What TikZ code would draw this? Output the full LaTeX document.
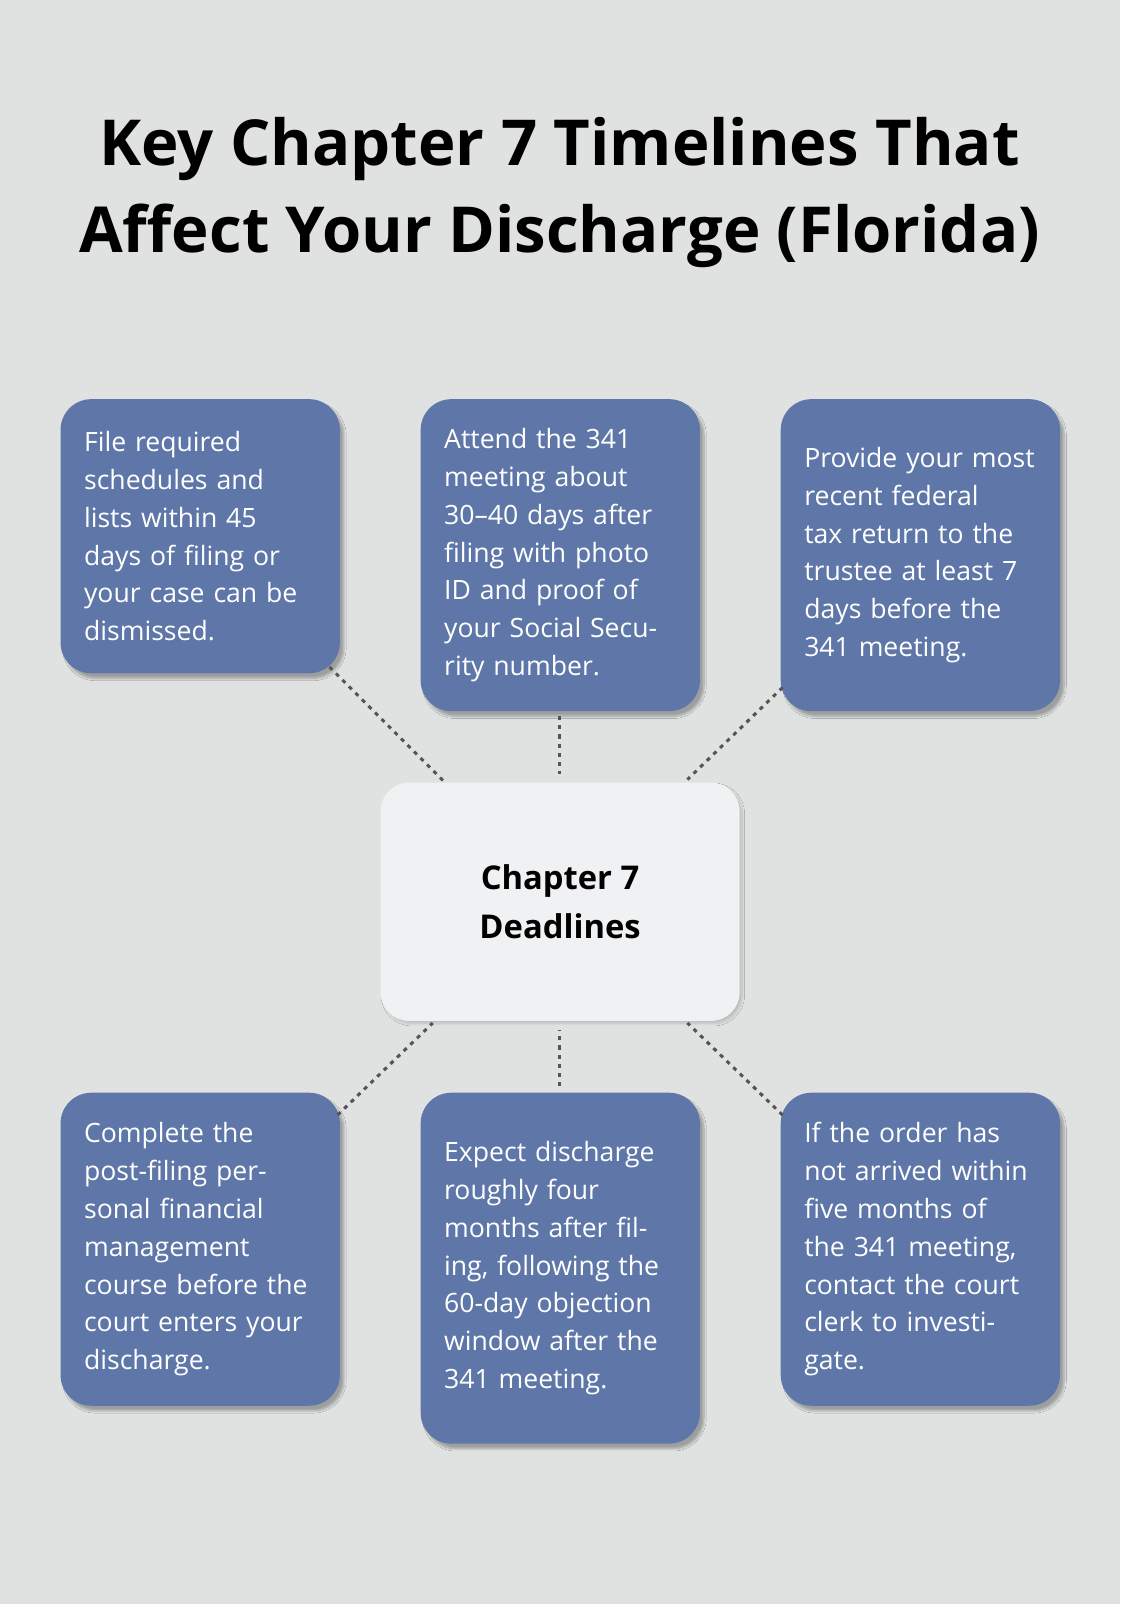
\documentclass[tikz,border=0pt]{standalone}
\usepackage{fontspec}
\setmainfont{Open Sans}
\usetikzlibrary{shadows.blur}
\definecolor{bg}{HTML}{E0E2E1}
\definecolor{boxc}{HTML}{5E77A8}
\definecolor{cen}{HTML}{EFF1F3}
\definecolor{dot}{HTML}{555555}
\begin{document}
\begin{tikzpicture}[x=1pt,y=-1pt,
  box/.style={anchor=north west,fill=boxc,rounded corners=30pt,text=white,align=left,
    text width=227pt,inner xsep=23pt,inner ysep=20pt,minimum width=273pt,
    font=\fontsize{26}{37}\selectfont,blur shadow={shadow blur steps=8,shadow xshift=4pt,shadow yshift=-5pt,shadow opacity=30}},
  link/.style={draw=dot,line width=3pt,dash pattern=on 4pt off 5pt}]
\fill[bg] (0,0) rectangle (1095,1568);
\useasboundingbox (0,0) rectangle (1095,1568);
\node[font=\bfseries\fontsize{62}{85}\selectfont,align=center] (title) at (547,188) {Key Chapter 7 Timelines That\\Affect Your Discharge (Florida)};
\node[fill=cen,rounded corners=28pt,minimum width=351pt,minimum height=233pt,align=center,
  font=\bfseries\fontsize{32}{47}\selectfont,blur shadow={shadow blur steps=8,shadow opacity=15}] (c) at (547.5,881.5) {Chapter 7\\Deadlines};
\node[box,minimum height=268pt] (b1) at (59,390) {File required schedules and lists within 45 days of filing or your case can be dismissed.};
\node[box,minimum height=305pt] (b2) at (411,390) {Attend the 341 meeting about 30–40 days after filing with photo ID and proof of your Social Security number.};
\node[box,minimum height=305pt] (b3) at (763,390) {Provide your most recent federal tax return to the trustee at least 7 days before the 341 meeting.};
\node[box,minimum height=306pt] (b4) at (59,1068) {Complete the post-filing personal financial management course before the court enters your discharge.};
\node[box,minimum height=343pt] (b5) at (411,1068) {Expect discharge roughly four months after filing, following the 60-day objection window after the 341 meeting.};
\node[box,minimum height=306pt] (b6) at (763,1068) {If the order has not arrived within five months of the 341 meeting, contact the court clerk to investigate.};
\coordinate (p1) at (322,652); \coordinate (q1) at (433,763);
\coordinate (p2) at (547,700); \coordinate (q2) at (547,757);
\coordinate (p3) at (765,672); \coordinate (q3) at (672,762);
\coordinate (p4) at (330,1090); \coordinate (q4) at (423,1000);
\coordinate (p5) at (547,1062); \coordinate (q5) at (547,1007);
\coordinate (p6) at (765,1090); \coordinate (q6) at (672,1000);
\foreach \i in {1,...,6}{\draw[link] (p\i) -- (q\i);}
\end{tikzpicture}
\end{document}
